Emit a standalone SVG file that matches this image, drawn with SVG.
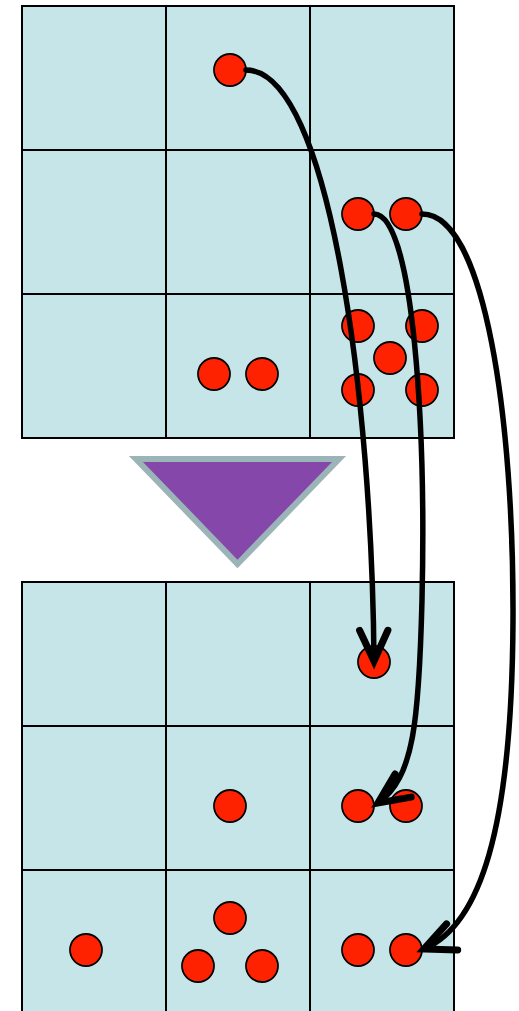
<svg xmlns="http://www.w3.org/2000/svg" width="519" height="1011" viewBox="0 0 519 1011">
<style>
.cell{fill:#C5E5E8;stroke:#000;stroke-width:2}
.dot{fill:#FF2200;stroke:#000;stroke-width:1.8}
.conn{fill:none;stroke:#000;stroke-width:5.5;stroke-linecap:round}
</style>
<defs>
<marker id="arr" markerUnits="userSpaceOnUse" orient="auto" markerWidth="40" markerHeight="40" viewBox="-30 -15 34 30" refX="0" refY="0" overflow="visible">
<path d="M-26,-12 L0,0 L-26,12" fill="none" stroke="#000" stroke-width="6" stroke-linecap="round" stroke-linejoin="miter"/>
</marker>
</defs>
<g id="grid-top">
<rect class="cell" x="22" y="6" width="144" height="144"/>
<rect class="cell" x="166" y="6" width="144" height="144"/>
<rect class="cell" x="310" y="6" width="144" height="144"/>
<rect class="cell" x="22" y="150" width="144" height="144"/>
<rect class="cell" x="166" y="150" width="144" height="144"/>
<rect class="cell" x="310" y="150" width="144" height="144"/>
<rect class="cell" x="22" y="294" width="144" height="144"/>
<rect class="cell" x="166" y="294" width="144" height="144"/>
<rect class="cell" x="310" y="294" width="144" height="144"/>
</g>
<g id="grid-bottom">
<rect class="cell" x="22" y="582" width="144" height="144"/>
<rect class="cell" x="166" y="582" width="144" height="144"/>
<rect class="cell" x="310" y="582" width="144" height="144"/>
<rect class="cell" x="22" y="726" width="144" height="144"/>
<rect class="cell" x="166" y="726" width="144" height="144"/>
<rect class="cell" x="310" y="726" width="144" height="144"/>
<rect class="cell" x="22" y="870" width="144" height="144"/>
<rect class="cell" x="166" y="870" width="144" height="144"/>
<rect class="cell" x="310" y="870" width="144" height="144"/>
</g>
<g id="triangle">
<polygon points="136,459 339,459 237.5,564" fill="#8547AA" stroke="#9BB4B8" stroke-width="6"/>
</g>
<g id="dots-top">
<circle class="dot" cx="230" cy="70" r="16"/>
<circle class="dot" cx="358" cy="214" r="16"/>
<circle class="dot" cx="406" cy="214" r="16"/>
<circle class="dot" cx="214" cy="374" r="16"/>
<circle class="dot" cx="262" cy="374" r="16"/>
<circle class="dot" cx="358" cy="326" r="16"/>
<circle class="dot" cx="422" cy="326" r="16"/>
<circle class="dot" cx="390" cy="358" r="16"/>
<circle class="dot" cx="358" cy="390" r="16"/>
<circle class="dot" cx="422" cy="390" r="16"/>
</g>
<g id="dots-bottom">
<circle class="dot" cx="374" cy="662" r="16"/>
<circle class="dot" cx="230" cy="806" r="16"/>
<circle class="dot" cx="358" cy="806" r="16"/>
<circle class="dot" cx="406" cy="806" r="16"/>
<circle class="dot" cx="86" cy="950" r="16"/>
<circle class="dot" cx="230" cy="918" r="16"/>
<circle class="dot" cx="198" cy="966" r="16"/>
<circle class="dot" cx="262" cy="966" r="16"/>
<circle class="dot" cx="358" cy="950" r="16"/>
<circle class="dot" cx="406" cy="950" r="16"/>
</g>
<g id="connectors">
<path class="conn" d="M246,70 C330,70 372,400 374,661" marker-end="url(#arr)"/>
<path class="conn" d="M374,214 C414,214 426,430 422,600 C419,720 414,778 378,803" marker-end="url(#arr)"/>
<path class="conn" d="M422,214 C485,214 514,420 513,620 C512,830 480,925 424,949" marker-end="url(#arr)"/>
</g>
</svg>
